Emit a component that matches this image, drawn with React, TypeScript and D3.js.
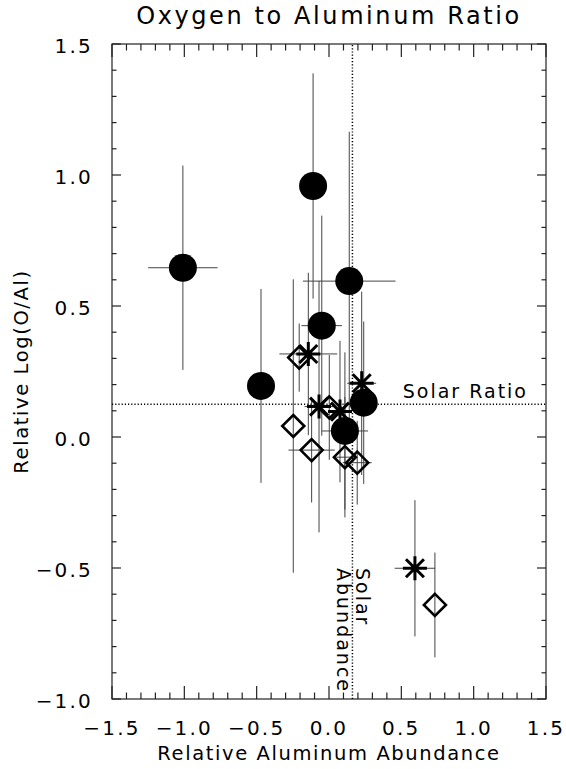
import React, { useEffect, useRef } from 'react';
import * as d3 from 'd3';

// filled circles
const circleX = [-1.01, -0.11, 0.14, -0.05, -0.47, 0.24, 0.11];
const circleY = [0.646, 0.958, 0.595, 0.425, 0.195, 0.131, 0.023];
const circleXErr = [0.24, 0, 0.32, 0.14, 0, 0, 0.16];
const circleYErr = [0.39, 0.43, 0.57, 0.42, 0.37, 0.31, 0.3];

// asterisks
const starX = [-0.143, 0.226, -0.069, 0.076, 0.594];
const starY = [0.317, 0.205, 0.116, 0.097, -0.501];
const starXErr = [0.2, 0.1, 0.1, 0.08, 0.14];
const starYErr = [0.31, 0.35, 0.48, 0.27, 0.26];

// open diamonds
const diamondX = [-0.206, 0.002, -0.247, -0.12, 0.11, 0.195, 0.732];
const diamondY = [0.303, 0.113, 0.042, -0.05, -0.077, -0.098, -0.641];
const diamondXErr = [0, 0, 0, 0.16, 0.08, 0.1, 0];
const diamondYErr = [0.13, 0.2, 0.56, 0.2, 0.23, 0.16, 0.2];

const xTicks = [-1.5, -1.0, -0.5, 0.0, 0.5, 1.0, 1.5];
const yTicks = [-1.0, -0.5, 0.0, 0.5, 1.0, 1.5];

const solarRatio = 0.125;
const solarAbundance = 0.162;

const fmt = (v) => (v < 0 ? '\u2212' : '') + Math.abs(v).toFixed(1);

const App = () => {
  const ref = useRef(null);

  useEffect(() => {
    const width = 566;
    const height = 769;
    const margin = { top: 44, right: 20, bottom: 70, left: 112 };
    const font = '"DejaVu Sans", sans-serif';

    d3.select(ref.current).select('svg').remove();

    const svg = d3
      .select(ref.current)
      .append('svg')
      .attr('width', width)
      .attr('height', height)
      .style('display', 'block')
      .style('background', '#fff');

    const x = d3.scaleLinear().domain([-1.5, 1.5]).range([margin.left, width - margin.right]);
    const y = d3.scaleLinear().domain([-1.0, 1.5]).range([height - margin.bottom, margin.top]);
    const [x0, x1] = x.range();
    const [y0, y1] = y.range();

    // frame
    svg
      .append('rect')
      .attr('x', x0)
      .attr('y', y1)
      .attr('width', x1 - x0)
      .attr('height', y0 - y1)
      .attr('fill', 'none')
      .attr('stroke', '#222')
      .attr('stroke-width', 1.2);

    // ticks on all four sides, pointing inward
    const xMinor = d3.range(-1.5, 1.5001, 0.1);
    const yMinor = d3.range(-1.0, 1.5001, 0.1);
    const xLen = 13;
    const yLen = 9;
    const ticks = svg.append('g').attr('stroke', '#222').attr('stroke-width', 1.2);
    xMinor.forEach((v) => {
      const major = Math.abs(v * 2 - Math.round(v * 2)) < 1e-6;
      const l = major ? xLen : xLen / 2;
      ticks.append('line').attr('x1', x(v)).attr('x2', x(v)).attr('y1', y0).attr('y2', y0 - l);
      ticks.append('line').attr('x1', x(v)).attr('x2', x(v)).attr('y1', y1).attr('y2', y1 + l);
    });
    yMinor.forEach((v) => {
      const major = Math.abs(v * 2 - Math.round(v * 2)) < 1e-6;
      const l = major ? yLen : yLen / 2;
      ticks.append('line').attr('y1', y(v)).attr('y2', y(v)).attr('x1', x0).attr('x2', x0 + l);
      ticks.append('line').attr('y1', y(v)).attr('y2', y(v)).attr('x1', x1).attr('x2', x1 - l);
    });

    // tick labels
    svg
      .selectAll('.xlab')
      .data(xTicks)
      .enter()
      .append('text')
      .attr('x', (d) => x(d))
      .attr('y', y0 + 36)
      .attr('text-anchor', 'middle')
      .style('font-family', font)
      .style('font-size', '20px')
      .style('letter-spacing', '2.2px')
      .text(fmt);

    svg
      .selectAll('.ylab')
      .data(yTicks)
      .enter()
      .append('text')
      .attr('x', x0 - 19)
      .attr('y', (d) => y(d) + 9)
      .attr('text-anchor', 'end')
      .style('font-family', font)
      .style('font-size', '20px')
      .style('letter-spacing', '2.2px')
      .text(fmt);

    // titles
    svg
      .append('text')
      .attr('x', (x0 + x1) / 2)
      .attr('y', 24)
      .attr('text-anchor', 'middle')
      .style('font-family', font)
      .style('font-size', '24px')
      .style('letter-spacing', '2.6px')
      .text('Oxygen to Aluminum Ratio');

    svg
      .append('text')
      .attr('x', (x0 + x1) / 2)
      .attr('y', 760)
      .attr('text-anchor', 'middle')
      .style('font-family', font)
      .style('font-size', '19.5px')
      .style('letter-spacing', '1.6px')
      .text('Relative Aluminum Abundance');

    svg
      .append('text')
      .attr('transform', `translate(28, ${(y0 + y1) / 2}) rotate(-90)`)
      .attr('text-anchor', 'middle')
      .style('font-family', font)
      .style('font-size', '19.5px')
      .style('letter-spacing', '1.6px')
      .text('Relative Log(O/Al)');

    // solar reference lines
    svg
      .append('line')
      .attr('x1', x0)
      .attr('x2', x1)
      .attr('y1', y(solarRatio))
      .attr('y2', y(solarRatio))
      .attr('stroke', '#000')
      .attr('stroke-width', 1.5)
      .attr('stroke-dasharray', '1.2 2');
    svg
      .append('line')
      .attr('x1', x(solarAbundance))
      .attr('x2', x(solarAbundance))
      .attr('y1', y0)
      .attr('y2', y1)
      .attr('stroke', '#000')
      .attr('stroke-width', 1.5)
      .attr('stroke-dasharray', '1.2 2');

    svg
      .append('text')
      .attr('x', x1 - 18)
      .attr('y', y(solarRatio) - 6)
      .attr('text-anchor', 'end')
      .style('font-family', font)
      .style('font-size', '19px')
      .style('letter-spacing', '2px')
      .text('Solar Ratio');

    const ann = svg
      .append('text')
      .attr('transform', `translate(${x(solarAbundance) + 4}, ${y(-0.5)}) rotate(90)`)
      .style('font-family', font)
      .style('font-size', '19px')
      .style('letter-spacing', '2px');
    ann.append('tspan').attr('x', 0).attr('dy', '0em').text('Solar');
    ann.append('tspan').attr('x', 0).attr('dy', '1.0em').text('Abundance');

    // error bars
    const bars = svg.append('g').attr('stroke', '#444').attr('stroke-width', 1);
    const drawErr = (xs, ys, xe, ye) => {
      xs.forEach((v, i) => {
        if (ye[i] > 0) {
          bars
            .append('line')
            .attr('x1', x(v))
            .attr('x2', x(v))
            .attr('y1', y(ys[i] - ye[i]))
            .attr('y2', y(ys[i] + ye[i]));
        }
        if (xe[i] > 0) {
          bars
            .append('line')
            .attr('y1', y(ys[i]))
            .attr('y2', y(ys[i]))
            .attr('x1', x(v - xe[i]))
            .attr('x2', x(v + xe[i]));
        }
      });
    };
    drawErr(circleX, circleY, circleXErr, circleYErr);
    drawErr(starX, starY, starXErr, starYErr);
    drawErr(diamondX, diamondY, diamondXErr, diamondYErr);

    // symbols
    svg
      .selectAll('.circ')
      .data(circleX)
      .enter()
      .append('circle')
      .attr('cx', (d) => x(d))
      .attr('cy', (d, i) => y(circleY[i]))
      .attr('r', 14)
      .attr('fill', '#000');

    const starPath = d3.path();
    const s = 12;
    const sd = s * 0.75;
    starPath.moveTo(-s, 0);
    starPath.lineTo(s, 0);
    starPath.moveTo(0, -s);
    starPath.lineTo(0, s);
    starPath.moveTo(-sd, -sd);
    starPath.lineTo(sd, sd);
    starPath.moveTo(-sd, sd);
    starPath.lineTo(sd, -sd);

    svg
      .selectAll('.star')
      .data(starX)
      .enter()
      .append('path')
      .attr('d', starPath.toString())
      .attr('transform', (d, i) => `translate(${x(d)}, ${y(starY[i])})`)
      .attr('fill', 'none')
      .attr('stroke', '#000')
      .attr('stroke-width', 3);

    const diamond = d3.line()([[0, -11], [11, 0], [0, 11], [-11, 0]]) + 'Z';
    svg
      .selectAll('.diam')
      .data(diamondX)
      .enter()
      .append('path')
      .attr('d', diamond)
      .attr('transform', (d, i) => `translate(${x(d)}, ${y(diamondY[i])})`)
      .attr('fill', 'none')
      .attr('stroke', '#000')
      .attr('stroke-width', 2.6)
      .attr('stroke-linejoin', 'miter');
  }, []);

  return <div ref={ref} style={{ position: 'absolute', left: 0, top: 0 }}></div>;
};

export default App;
